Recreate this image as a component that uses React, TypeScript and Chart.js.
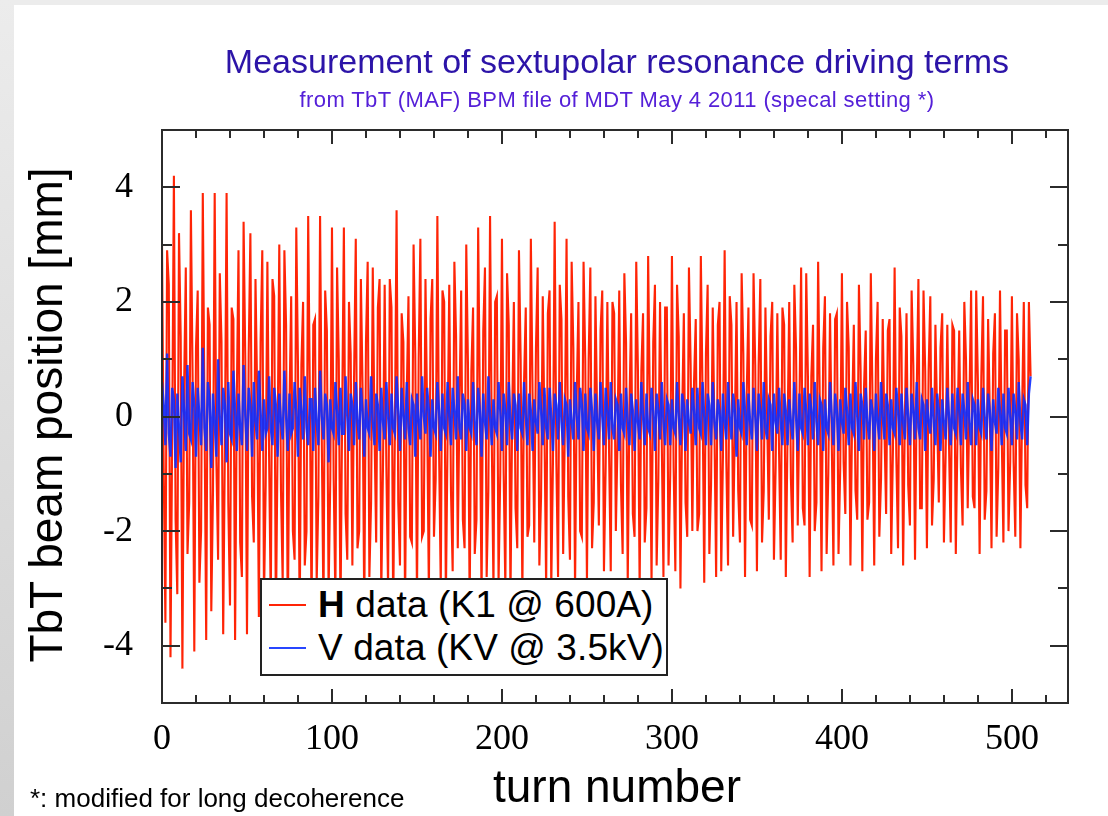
import React, { useEffect, useRef } from "react";
import { Chart, registerables } from "chart.js";

Chart.register(...registerables);

// Horizontal BPM turn-by-turn position [mm], turns 0..511
const H_DATA = [
  3.0, -0.9, -3.6, 2.9, 2.3, -4.2, -0.3, 4.2, -1.8, -3.1,
  3.2, 1.4, -4.4, 0.5, 2.6, -2.4, -1.5, 3.6, 0.7, -4.1,
  1.2, 2.2, -2.9, -2.0, 3.9, 0.1, -3.9, 1.9, 1.6, -3.4,
  -1.3, 3.9, -0.8, -2.5, 2.5, 1.3, -3.8, -0.5, 3.9, -1.5,
  -3.3, 1.9, 1.7, -3.9, 0.3, 2.9, -2.2, -2.8, 3.4, 1.0,
  -3.8, 1.1, 3.2, -1.4, -2.2, 2.4, 0.4, -3.5, 1.3, 2.9,
  -3.2, -1.2, 2.7, -0.7, -3.3, 2.4, 2.1, -3.6, -0.5, 3.0,
  -1.3, -2.9, 2.9, 1.6, -3.7, 0.2, 2.1, -2.0, -2.5, 3.3,
  0.9, -3.6, 0.9, 2.0, -2.6, -2.0, 3.5, 0.3, -3.5, 1.6,
  1.7, -2.9, -1.4, 3.5, -0.4, -3.4, 2.2, 1.5, -3.1, -1.1,
  3.3, -1.1, -3.2, 2.6, 1.0, -3.5, 0.1, 3.3, -1.7, -2.5,
  2.0, 1.1, -2.6, 0.7, 3.1, -2.3, -2.0, 2.4, 0.5, -3.4,
  1.3, 2.7, -2.8, -1.5, 2.6, -0.2, -2.2, 1.9, 2.4, -3.1,
  -0.9, 2.3, -0.9, -3.0, 2.4, 1.9, -3.4, -0.3, 3.6, -1.5,
  -2.6, 1.8, 1.3, -3.3, 0.4, 2.1, -2.1, -2.2, 3.0, 1.1,
  -3.2, 1.0, 3.1, -2.1, -2.0, 2.4, 0.0, -3.1, 1.7, 2.4,
  -2.1, -1.1, 3.5, -0.6, -3.0, 2.2, 2.0, -3.2, -0.4, 2.3,
  -1.3, -2.7, 2.7, 1.4, -2.3, 0.2, 2.2, -1.8, -2.3, 3.0,
  0.9, -3.3, 0.8, 1.9, -2.4, -1.8, 3.3, 0.2, -3.2, 1.5,
  2.6, -2.8, -1.3, 3.5, -0.4, -3.0, 2.0, 2.1, -2.9, -1.0,
  3.1, -1.0, -3.0, 2.5, 1.6, -3.2, 0.0, 2.0, -1.6, -2.3,
  2.9, 1.0, -3.1, 0.6, 1.9, -2.1, -1.9, 3.1, 0.4, -2.2,
  1.2, 2.6, -2.6, -1.4, 2.1, -0.2, -3.0, 1.8, 2.2, -3.0,
  -0.8, 3.4, -0.8, -2.8, 2.3, 1.7, -2.4, -0.2, 3.1, -1.4,
  -2.5, 2.7, 1.2, -3.0, 0.4, 2.0, -2.0, -2.1, 2.7, 1.0,
  -2.9, 1.0, 2.6, -2.3, -1.5, 2.1, 0.0, -1.9, 1.5, 2.2,
  -2.7, -0.9, 2.0, -0.6, -2.7, 2.0, 1.8, -2.0, -0.4, 2.2,
  -1.2, -2.4, 2.5, 1.3, -2.9, 0.2, 1.8, -1.7, -2.1, 2.7,
  0.8, -3.0, 0.8, 1.8, -2.2, -1.6, 2.8, 0.2, -2.9, 1.3,
  2.3, -2.6, -1.1, 2.0, -0.4, -2.8, 1.9, 1.9, -2.6, -1.0,
  2.8, -0.9, -2.7, 2.3, 1.4, -3.0, 0.0, 1.8, -1.5, -2.1,
  2.6, 0.9, -2.0, 0.6, 1.7, -2.0, -1.7, 2.8, 0.4, -2.9,
  1.1, 2.3, -2.4, -1.2, 1.9, -0.2, -2.8, 1.6, 2.0, -2.7,
  -0.7, 2.9, -0.8, -2.6, 2.1, 1.6, -2.1, -0.2, 2.0, -1.3,
  -2.2, 2.5, 1.1, -2.8, 0.4, 1.9, -1.8, -1.9, 2.5, 0.9,
  -2.7, 0.9, 2.4, -2.2, -1.3, 1.9, 0.0, -1.8, 1.4, 2.0,
  -2.5, -0.9, 1.8, -0.6, -2.5, 1.9, 1.6, -2.8, -0.3, 2.0,
  -1.1, -2.2, 2.3, 1.2, -1.9, 0.2, 2.6, -1.6, -1.9, 2.5,
  0.7, -2.8, 0.7, 1.6, -2.0, -1.5, 2.7, 0.2, -2.7, 1.2,
  2.1, -2.4, -1.0, 1.8, -0.4, -2.6, 1.7, 1.8, -2.4, -0.9,
  2.5, -0.8, -1.7, 2.0, 1.2, -2.6, 0.0, 1.6, -1.3, -1.8,
  2.3, 0.8, -2.7, 0.5, 1.5, -1.8, -1.5, 2.5, 0.3, -2.6,
  1.0, 2.0, -2.1, -1.1, 1.7, -0.2, -1.7, 1.5, 1.7, -2.4,
  -0.6, 2.6, -0.7, -2.3, 1.9, 1.4, -2.6, -0.1, 1.8, -1.2,
  -1.9, 2.2, 0.9, -2.5, 0.4, 2.4, -1.6, -1.6, 2.2, 0.8,
  -2.3, 0.8, 2.1, -1.9, -1.1, 1.6, 0.0, -1.5, 1.2, 1.8,
  -2.2, -0.7, 1.6, -0.5, -2.2, 1.6, 1.5, -2.4, -0.3, 1.5,
  -0.9, -1.9, 2.0, 1.0, -1.6, 0.2, 2.2, -1.4, -1.6, 2.2,
  0.6, -2.4, 0.7, 2.1, -1.8, -1.3, 1.7, 0.1, -2.3, 1.1,
  1.8, -2.1, -0.9, 2.2, -0.3, -2.2, 1.5, 1.5, -2.0, -0.8,
  2.1, -0.8, -2.1, 1.8, 1.0, -2.3, 0.1, 2.0, -1.2, -1.6,
  2.0, 0.7,
];

// Vertical BPM turn-by-turn position [mm], turns 0..511
const V_DATA = [
  0.6, 0.2, -0.5, 1.1, -0.3, -0.7, 0.5, 0.3, -0.9, 0.4,
  -0.2, -0.8, 0.7, 0.1, -0.6, 0.9, -0.3, -0.4, 0.6, 0.2,
  -0.7, 0.5, 0.0, -0.5, 1.2, -0.2, -0.6, 0.6, 0.3, -0.9,
  0.4, -0.1, -0.7, 1.0, 0.0, -0.5, 0.5, 0.2, -0.8, 0.6,
  -0.3, -0.4, 0.8, 0.1, -0.6, 0.4, -0.2, -0.5, 0.9, 0.0,
  -0.6, 0.5, 0.2, -0.7, 0.6, -0.1, -0.4, 0.8, 0.1, -0.6,
  0.3, -0.3, -0.2, 0.7, -0.2, -0.5, 0.5, 0.2, -0.7, 0.4,
  -0.1, -0.4, 0.8, 0.0, -0.6, 0.4, -0.3, -0.2, 0.6, 0.1,
  -0.7, 0.5, 0.1, -0.4, 0.7, -0.2, -0.5, 0.3, 0.3, -0.6,
  0.5, -0.1, -0.5, 0.8, 0.0, -0.4, 0.4, 0.2, -0.8, 0.3,
  -0.2, -0.3, 0.6, 0.1, -0.5, 0.5, -0.3, -0.3, 0.7, 0.0,
  -0.6, 0.4, 0.2, -0.5, 0.6, -0.1, -0.4, 0.5, 0.1, -0.7,
  0.3, -0.2, -0.3, 0.7, -0.1, -0.5, 0.4, 0.2, -0.6, 0.5,
  -0.1, -0.4, 0.6, 0.0, -0.5, 0.4, -0.2, -0.3, 0.7, 0.1,
  -0.6, 0.5, 0.0, -0.4, 0.6, -0.2, -0.5, 0.3, 0.2, -0.7,
  0.4, -0.1, -0.4, 0.7, 0.0, -0.3, 0.5, 0.1, -0.7, 0.3,
  -0.2, -0.3, 0.6, 0.1, -0.6, 0.4, -0.2, -0.3, 0.6, 0.0,
  -0.5, 0.5, 0.1, -0.4, 0.7, -0.2, -0.4, 0.4, 0.2, -0.6,
  0.3, -0.2, -0.3, 0.6, -0.1, -0.5, 0.5, 0.1, -0.7, 0.4,
  -0.1, -0.4, 0.7, 0.0, -0.5, 0.3, -0.2, -0.3, 0.6, 0.1,
  -0.6, 0.4, 0.1, -0.5, 0.6, -0.1, -0.4, 0.4, 0.2, -0.6,
  0.4, -0.2, -0.3, 0.6, 0.0, -0.5, 0.4, 0.1, -0.6, 0.3,
  -0.1, -0.3, 0.6, 0.1, -0.5, 0.5, -0.2, -0.4, 0.5, 0.0,
  -0.6, 0.4, 0.2, -0.4, 0.6, -0.1, -0.5, 0.3, 0.2, -0.7,
  0.3, -0.1, -0.4, 0.6, 0.0, -0.4, 0.5, 0.2, -0.6, 0.4,
  -0.2, -0.3, 0.5, 0.1, -0.6, 0.4, -0.1, -0.4, 0.6, 0.0,
  -0.5, 0.5, 0.1, -0.4, 0.6, -0.2, -0.4, 0.3, 0.2, -0.6,
  0.4, -0.2, -0.3, 0.5, -0.1, -0.5, 0.4, 0.1, -0.6, 0.3,
  -0.1, -0.4, 0.6, 0.0, -0.5, 0.4, -0.2, -0.3, 0.5, 0.1,
  -0.6, 0.4, 0.1, -0.4, 0.6, -0.1, -0.5, 0.3, 0.2, -0.5,
  0.3, -0.2, -0.3, 0.6, 0.0, -0.5, 0.4, 0.2, -0.6, 0.3,
  -0.1, -0.3, 0.5, 0.1, -0.5, 0.5, -0.2, -0.3, 0.6, 0.0,
  -0.5, 0.4, 0.2, -0.5, 0.6, -0.1, -0.4, 0.3, 0.1, -0.6,
  0.4, -0.1, -0.4, 0.6, 0.0, -0.4, 0.4, 0.1, -0.7, 0.3,
  -0.2, -0.3, 0.6, 0.1, -0.5, 0.4, -0.1, -0.4, 0.5, 0.0,
  -0.6, 0.4, 0.1, -0.4, 0.6, -0.2, -0.4, 0.3, 0.2, -0.6,
  0.4, -0.1, -0.3, 0.5, -0.1, -0.5, 0.4, 0.1, -0.5, 0.3,
  -0.1, -0.4, 0.6, 0.0, -0.6, 0.4, -0.2, -0.3, 0.5, 0.1,
  -0.5, 0.4, 0.1, -0.4, 0.6, -0.1, -0.5, 0.3, 0.2, -0.6,
  0.3, -0.2, -0.3, 0.6, 0.0, -0.5, 0.4, 0.1, -0.6, 0.3,
  -0.1, -0.3, 0.5, 0.1, -0.5, 0.4, -0.2, -0.3, 0.6, 0.0,
  -0.6, 0.4, 0.2, -0.4, 0.5, -0.1, -0.4, 0.3, 0.1, -0.6,
  0.4, -0.1, -0.4, 0.6, 0.0, -0.4, 0.4, 0.2, -0.5, 0.3,
  -0.2, -0.3, 0.5, 0.1, -0.5, 0.4, -0.1, -0.4, 0.5, 0.0,
  -0.5, 0.4, 0.1, -0.4, 0.6, -0.2, -0.4, 0.3, 0.2, -0.6,
  0.3, -0.1, -0.3, 0.5, -0.1, -0.5, 0.4, 0.1, -0.6, 0.3,
  -0.1, -0.4, 0.5, 0.0, -0.5, 0.4, -0.2, -0.3, 0.5, 0.1,
  -0.5, 0.4, 0.1, -0.4, 0.6, -0.1, -0.5, 0.3, 0.2, -0.5,
  0.3, -0.2, -0.3, 0.5, 0.0, -0.4, 0.4, 0.1, -0.6, 0.3,
  -0.1, -0.3, 0.5, 0.1, -0.5, 0.4, -0.2, -0.3, 0.5, 0.0,
  -0.5, 0.4, 0.1, -0.4, 0.6, -0.1, -0.4, 0.3, 0.2, -0.5,
  0.4, 0.7,
];

const X_TICKS = [0, 100, 200, 300, 400, 500];
const X_MINOR_TICKS = [20, 40, 60, 80, 120, 140, 160, 180, 220, 240, 260, 280, 320, 340, 360, 380, 420, 440, 460, 480, 520];
const Y_TICKS = [-4, -2, 0, 2, 4];
const Y_MINOR_TICKS = [-3, -1, 1, 3];
const X_RANGE = [0, 533];
const Y_RANGE = [-5, 5];

const H_LABEL = "H data (K1 @ 600A)";
const V_LABEL = "V data (KV @ 3.5kV)";
const H_COLOR = "rgb(255,36,6)";
const V_COLOR = "rgba(12,44,255,0.9)";

const framePlugin = {
  id: "frameTicks",
  afterDatasetsDraw(chart: any) {
    const { ctx, chartArea: a, scales } = chart;
    const x = scales.x;
    const y = scales.y;
    ctx.save();
    ctx.strokeStyle = "#2b2b2b";
    ctx.lineWidth = 2;
    ctx.beginPath();
    const xt = (vals: number[], len: number) => {
      for (const v of vals) {
        const px = Math.round(x.getPixelForValue(v));
        ctx.moveTo(px, a.bottom);
        ctx.lineTo(px, a.bottom - len);
        ctx.moveTo(px, a.top);
        ctx.lineTo(px, a.top + len);
      }
    };
    const yt = (vals: number[], len: number) => {
      for (const v of vals) {
        const py = Math.round(y.getPixelForValue(v));
        ctx.moveTo(a.left, py);
        ctx.lineTo(a.left + len, py);
        ctx.moveTo(a.right, py);
        ctx.lineTo(a.right - len, py);
      }
    };
    xt(X_TICKS, 14);
    xt(X_MINOR_TICKS, 8);
    yt(Y_TICKS, 18);
    yt(Y_MINOR_TICKS, 10);
    ctx.stroke();
    ctx.strokeRect(a.left, a.top, a.right - a.left, a.bottom - a.top);
    ctx.restore();
  },
};

export default function App() {
  const canvasRef = useRef<HTMLCanvasElement | null>(null);

  useEffect(() => {
    const canvas = canvasRef.current;
    if (!canvas) return;
    const chart = new Chart(canvas, {
      type: "line",
      data: {
        datasets: [
          {
            label: V_LABEL,
            data: V_DATA.map((v, i) => ({ x: i, y: v })),
            borderColor: V_COLOR,
            borderWidth: 2.4,
            pointRadius: 0,
            tension: 0,
            order: 0,
          },
          {
            label: H_LABEL,
            data: H_DATA.map((v, i) => ({ x: i, y: v })),
            borderColor: H_COLOR,
            borderWidth: 2.1,
            pointRadius: 0,
            tension: 0,
            order: 1,
          },
        ],
      },
      options: {
        responsive: false,
        animation: false,
        devicePixelRatio: 1,
        events: [],
        layout: { padding: { left: 20, right: 40, top: 130, bottom: 0 } },
        plugins: { legend: { display: false }, tooltip: { enabled: false }, title: { display: false } },
        scales: {
          x: {
            type: "linear",
            min: X_RANGE[0],
            max: X_RANGE[1],
            grid: { display: false },
            border: { display: false },
            ticks: {
              color: "#000",
              font: { family: '"Liberation Serif", "Times New Roman", serif', size: 36 },
              padding: 7,
              maxRotation: 0,
              autoSkip: false,
            },
            afterBuildTicks: (s: any) => {
              s.ticks = X_TICKS.map((v) => ({ value: v }));
            },
            afterFit: (s: any) => {
              s.height = 113;
            },
          },
          y: {
            type: "linear",
            min: Y_RANGE[0],
            max: Y_RANGE[1],
            grid: { display: false },
            border: { display: false },
            ticks: {
              color: "#000",
              font: { family: '"Liberation Serif", "Times New Roman", serif', size: 36 },
              padding: 21,
              autoSkip: false,
            },
            afterBuildTicks: (s: any) => {
              s.ticks = Y_TICKS.map((v) => ({ value: v }));
            },
            afterFit: (s: any) => {
              s.width = 142;
            },
          },
        },
      },
      plugins: [framePlugin],
    });
    return () => chart.destroy();
  }, []);

  const sans = '"Liberation Sans", Arial, Helvetica, sans-serif';
  return (
    <div
      style={{
        position: "absolute",
        left: 0,
        top: 0,
        width: 1108,
        height: 816,
        background: "#fff",
        overflow: "hidden",
        fontFamily: sans,
      }}
    >
      <div style={{ position: "absolute", left: 0, top: 0, width: 1108, height: 5, background: "#ececec" }} />
      <div
        style={{
          position: "absolute",
          left: 0,
          top: 0,
          width: 14,
          height: 816,
          background: "linear-gradient(#ececec, #d0d0d0)",
        }}
      />
      <canvas ref={canvasRef} width={1108} height={816} style={{ position: "absolute", left: 0, top: 0 }} />
      <div
        style={{
          position: "absolute",
          left: 117,
          width: 1000,
          top: 44,
          textAlign: "center",
          fontSize: 34,
          lineHeight: "34px",
          color: "#2c14a8",
          whiteSpace: "nowrap",
        }}
      >
        Measurement of sextupolar resonance driving terms
      </div>
      <div
        style={{
          position: "absolute",
          left: 117,
          width: 1000,
          top: 89,
          textAlign: "center",
          fontSize: 22,
          lineHeight: "22px",
          letterSpacing: 0.4,
          color: "#5520d8",
          whiteSpace: "nowrap",
        }}
      >
        from TbT (MAF) BPM file of MDT May 4 2011 (specal setting *)
      </div>
      <div
        style={{
          position: "absolute",
          left: 46 - 300,
          top: 415 - 23,
          width: 600,
          height: 46,
          lineHeight: "46px",
          fontSize: 46,
          textAlign: "center",
          transform: "rotate(-90deg)",
          color: "#000",
          whiteSpace: "nowrap",
        }}
      >
        TbT beam position [mm]
      </div>
      <div
        style={{
          position: "absolute",
          left: 317,
          width: 600,
          top: 763,
          textAlign: "center",
          fontSize: 46,
          lineHeight: "46px",
          color: "#000",
          whiteSpace: "nowrap",
        }}
      >
        turn number
      </div>
      <div
        style={{
          position: "absolute",
          left: 30,
          top: 785,
          fontSize: 26,
          lineHeight: "26px",
          color: "#000",
          whiteSpace: "nowrap",
        }}
      >
        *: modified for long decoherence
      </div>
      <div
        style={{
          position: "absolute",
          left: 260,
          top: 578,
          width: 404,
          height: 94,
          border: "2px solid #222",
          background: "#fff",
        }}
      >
        <div style={{ position: "absolute", left: 7, top: 24, width: 37, height: 2, background: H_COLOR }} />
        <div
          style={{
            position: "absolute",
            left: 56,
            top: 5,
            fontSize: 37,
            lineHeight: "40px",
            letterSpacing: 0.1,
            color: "#000",
            whiteSpace: "nowrap",
          }}
        >
          <span style={{ fontWeight: 700 }}>H</span> data (K1 @ 600A)
        </div>
        <div style={{ position: "absolute", left: 7, top: 67, width: 37, height: 2, background: "rgb(40,70,255)" }} />
        <div
          style={{
            position: "absolute",
            left: 56,
            top: 48,
            fontSize: 37,
            lineHeight: "40px",
            letterSpacing: 0.1,
            color: "#000",
            whiteSpace: "nowrap",
          }}
        >
          {V_LABEL}
        </div>
      </div>
    </div>
  );
}
